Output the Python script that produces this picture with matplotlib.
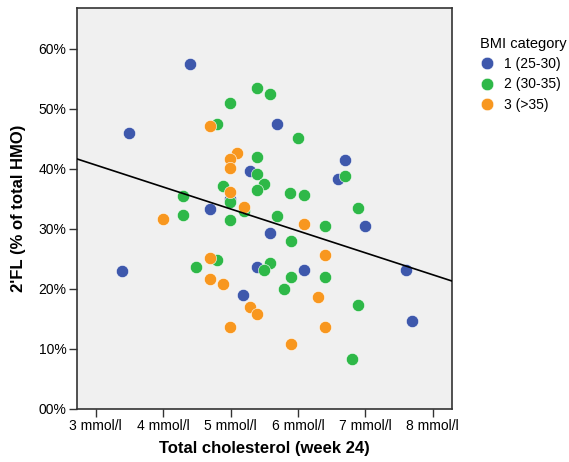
import matplotlib
matplotlib.use("Agg")
import matplotlib.pyplot as plt
import numpy as np
from matplotlib.lines import Line2D

plt.rcParams['font.family'] = ['Liberation Sans', 'DejaVu Sans']

# BMI 1 (25-30)
x1 = [4.40, 3.49, 3.39, 4.70, 5.29, 5.69, 4.99, 6.70, 6.60, 7.00, 5.59, 5.39, 6.09, 5.19, 7.60, 7.69]
y1 = [57.45, 45.95, 22.95, 33.28, 39.6, 47.45, 34.95, 41.45, 38.28, 30.45, 29.28, 23.6, 23.1, 18.95, 23.1, 14.6]
# BMI 2 (30-35)
x2 = [5.39, 5.59, 4.99, 4.80, 6.00, 5.39, 5.39, 5.50, 5.39, 4.89, 6.70, 4.99, 4.30, 4.30, 5.20, 4.99,
      5.88, 6.09, 6.89, 5.69, 6.40, 5.90, 4.80, 4.49, 5.59, 5.50, 5.90, 6.40, 5.79, 6.89, 6.80]
y2 = [53.45, 52.45, 50.95, 47.45, 45.12, 41.95, 39.12, 37.45, 36.45, 37.12, 38.78, 34.45, 35.45, 32.28, 32.95, 31.45,
      35.95, 35.62, 33.45, 32.12, 30.45, 27.95, 24.78, 23.62, 24.28, 23.12, 21.95, 21.95, 19.95, 17.28, 8.28]
# BMI 3 (>35)
x3 = [4.70, 5.10, 4.99, 4.99, 4.99, 5.20, 4.00, 6.09, 4.70, 6.40, 4.70, 4.89, 5.29, 5.39, 6.30, 4.99, 6.40, 5.90]
y3 = [47.12, 42.62, 41.62, 40.12, 36.12, 33.62, 31.62, 30.78, 25.12, 25.62, 21.62, 20.78, 16.95, 15.78, 18.62, 13.62, 13.62, 10.78]

groups = ["1 (25-30)", "2 (30-35)", "3 (>35)"]
colors = ["#3E58AC", "#2EB848", "#F8971F"]

# fit line
fit_intercept = 51.56
fit_slope = -3.656

xticks = [3, 4, 5, 6, 7, 8]
xticklabels = ["3 mmol/l", "4 mmol/l", "5 mmol/l", "6 mmol/l", "7 mmol/l", "8 mmol/l"]
yticks = [0, 10, 20, 30, 40, 50, 60]
yticklabels = ["00%", "10%", "20%", "30%", "40%", "50%", "60%"]

fig = plt.figure(figsize=(5.69, 4.62), dpi=100)
ax = fig.add_axes([0.1348, 0.1154, 0.7939 - 0.1348, 0.982 - 0.1154])
ax.set_facecolor("#F0F0F0")

xmin, xmax = 2.718, 8.282
ax.set_xlim(xmin, xmax)
ax.set_ylim(0, 66.7)

for xs, ys, c in zip([x1, x2, x3], [y1, y2, y3], colors):
    ax.scatter(xs, ys, s=78, color=c, edgecolors="white", linewidths=0.4, zorder=3)

xx = np.array([xmin, xmax])
ax.plot(xx, fit_intercept + fit_slope * xx, color="black", lw=1.2, zorder=4)

ax.set_xticks(xticks)
ax.set_xticklabels(xticklabels)
ax.set_yticks(yticks)
ax.set_yticklabels(yticklabels)
ax.tick_params(axis="both", direction="out", length=6, width=1, color="#333333",
               labelsize=10, pad=1.5, labelcolor="black")
for sp in ax.spines.values():
    sp.set_color("#333333")
    sp.set_linewidth(1.2)

ax.set_xlabel("Total cholesterol (week 24)", fontsize=12, fontweight="bold", labelpad=6)
ax.set_ylabel("2'FL (% of total HMO)", fontsize=12, fontweight="bold", labelpad=9)

handles = [Line2D([], [], marker="o", linestyle="", markersize=9, markerfacecolor=c,
                  markeredgecolor="white", markeredgewidth=0.4) for c in colors]
leg = fig.legend(handles, groups, title="BMI category", loc="upper left",
                 bbox_to_anchor=(0.832, 0.935), frameon=False, fontsize=10,
                 title_fontsize=10.5, handletextpad=0.7, labelspacing=0.45,
                 borderpad=0, handlelength=1.0)
leg._legend_box.align = "left"

fig.savefig("out.png", dpi=100)
